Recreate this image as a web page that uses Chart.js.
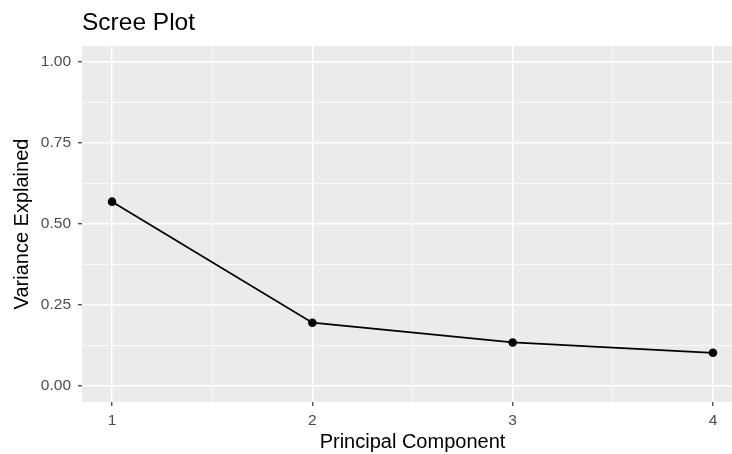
<!DOCTYPE html>
<html>
<head>
<meta charset="utf-8">
<script src="https://cdn.jsdelivr.net/npm/chart.js@4/dist/chart.umd.min.js"></script>
<style>
  html, body { margin: 0; padding: 0; background: #fff; overflow: hidden; }
  #wrap { width: 732px; height: 454px; overflow: hidden; }
  #scree { display: block; }
</style>
</head>
<body>
<div id="wrap"><canvas id="scree" width="748" height="454"></canvas></div>
<script>
// Principal components and the share of variance each one explains
const components = [1, 2, 3, 4];
const varianceExplained = [0.569, 0.195, 0.134, 0.102];

// Axis breaks (major ones carry labels, minor ones only a grid line)
const yMajorTicks = [0, 0.25, 0.5, 0.75, 1];
const yMinorTicks = [0.125, 0.375, 0.625, 0.875];
const yTickLabels = ['0.00', '0.25', '0.50', '0.75', '1.00'];
const xMajorTicks = [1, 2, 3, 4];
const xMinorTicks = [1.5, 2.5, 3.5];
const xTickLabels = ['1', '2', '3', '4'];

// Panel limits: the data range widened a little on every side
const xLimits = [0.85, 4.15];
const yLimits = [-0.05, 1.05];

const titleText = 'Scree Plot';
const xTitleText = 'Principal Component';
const yTitleText = 'Variance Explained';

const FONT = '"Liberation Sans", Arial, Helvetica, sans-serif';
const PANEL_LEFT = 82, PANEL_TOP = 46, PANEL_BOTTOM = 402;

function indexIn(list, v) {
  return list.findIndex(m => Math.abs(m - v) < 1e-9);
}

// tick list for a scale: the limits (blank, no line) + minor + major breaks
function buildTicks(limits, major, minor) {
  return limits.concat(major, minor).sort((p, q) => p - q).map(v => ({ value: v }));
}

function gridOptions(major, minor) {
  return {
    color: '#FFFFFF',
    lineWidth: ctx => indexIn(major, ctx.tick.value) >= 0 ? 1.5
                    : indexIn(minor, ctx.tick.value) >= 0 ? 0.75 : 0,
    tickColor: ctx => indexIn(major, ctx.tick.value) >= 0 ? '#333333' : 'rgba(0,0,0,0)',
    tickLength: 4,
    tickWidth: 1.2
  };
}

// Grey panel, title and axis titles in the ggplot look
const decorations = {
  id: 'decorations',
  beforeDraw(chart) {
    const { ctx, chartArea: a } = chart;
    ctx.save();
    ctx.fillStyle = '#EBEBEB';
    ctx.fillRect(a.left, a.top, a.right - a.left, a.bottom - a.top);
    ctx.restore();
  },
  afterDraw(chart) {
    const { ctx, chartArea: a } = chart;
    ctx.save();
    ctx.fillStyle = '#000';
    ctx.textBaseline = 'alphabetic';
    ctx.textAlign = 'left';
    ctx.font = '24.5px ' + FONT;
    ctx.fillText(titleText, a.left, 30);

    ctx.font = '20px ' + FONT;
    ctx.textAlign = 'center';
    ctx.fillText(xTitleText, (a.left + a.right) / 2, 448);

    ctx.translate(28, (a.top + a.bottom) / 2);
    ctx.rotate(-Math.PI / 2);
    ctx.fillText(yTitleText, 0, 0);
    ctx.restore();
  }
};

new Chart(document.getElementById('scree'), {
  type: 'line',
  data: {
    datasets: [{
      data: components.map((c, i) => ({ x: c, y: varianceExplained[i] })),
      borderColor: '#000',
      borderWidth: 1.8,
      backgroundColor: '#000',
      pointRadius: 4.3,
      pointBorderWidth: 0,
      pointBackgroundColor: '#000',
      tension: 0,
      clip: false
    }]
  },
  options: {
    responsive: false,
    devicePixelRatio: 1,
    animation: false,
    events: [],
    layout: { padding: { left: 0, right: 0, top: PANEL_TOP, bottom: 0 } },
    plugins: { legend: { display: false }, title: { display: false }, tooltip: { enabled: false } },
    scales: {
      x: {
        type: 'linear',
        min: xLimits[0],
        max: xLimits[1],
        afterBuildTicks(scale) { scale.ticks = buildTicks(xLimits, xMajorTicks, xMinorTicks); },
        afterFit(scale) { scale.height = 454 - PANEL_BOTTOM; },
        border: { display: false },
        grid: gridOptions(xMajorTicks, xMinorTicks),
        ticks: {
          autoSkip: false,
          maxRotation: 0,
          padding: 5,
          color: '#4D4D4D',
          font: { family: FONT, size: 15.5 },
          callback: v => {
            const i = indexIn(xMajorTicks, v);
            return i >= 0 ? xTickLabels[i] : '';
          }
        }
      },
      y: {
        type: 'linear',
        min: yLimits[0],
        max: yLimits[1],
        afterBuildTicks(scale) { scale.ticks = buildTicks(yLimits, yMajorTicks, yMinorTicks); },
        afterFit(scale) { scale.width = PANEL_LEFT; },
        border: { display: false },
        grid: gridOptions(yMajorTicks, yMinorTicks),
        ticks: {
          autoSkip: false,
          padding: 7,
          color: '#4D4D4D',
          font: { family: FONT, size: 15.5 },
          callback: v => {
            const i = indexIn(yMajorTicks, v);
            return i >= 0 ? yTickLabels[i] : '';
          }
        }
      }
    }
  },
  plugins: [decorations]
});
</script>
</body>
</html>
